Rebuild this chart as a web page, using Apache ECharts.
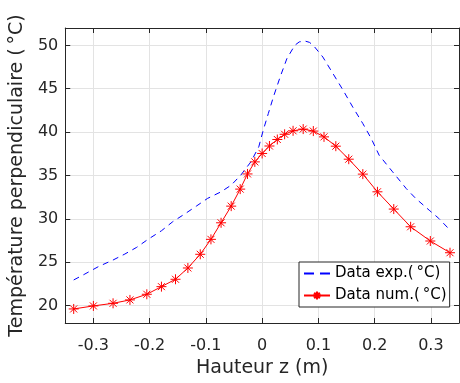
<!DOCTYPE html>
<html>
<head>
<meta charset="utf-8">
<script src="https://cdn.jsdelivr.net/npm/echarts@6/dist/echarts.min.js"></script>
<style>
  html, body { margin: 0; padding: 0; background: #fff; }
  #chart { width: 460px; height: 383px; }
</style>
</head>
<body>
<div id="chart"></div>
<script>
var expX = [-0.335, -0.315, -0.291, -0.274, -0.265, -0.244, -0.223, -0.203, -0.179, -0.159,
            -0.138, -0.117, -0.097, -0.073, -0.055, -0.038, -0.020, -0.006, 0.002, 0.011,
            0.020, 0.032, 0.044, 0.058, 0.066, 0.076, 0.084, 0.091, 0.108, 0.126,
            0.144, 0.161, 0.179, 0.194, 0.208, 0.232, 0.256, 0.273, 0.297, 0.314, 0.334];
var expY = [22.96, 23.65, 24.5, 25.0, 25.26, 25.95, 26.72, 27.64, 28.63, 29.67,
            30.55, 31.47, 32.36, 33.12, 33.89, 35.04, 36.57, 38.3, 40.22, 42.14,
            44.05, 46.35, 48.47, 50.0, 50.4, 50.5, 50.35, 50.0, 48.65, 46.74,
            44.82, 42.9, 40.99, 39.26, 37.34, 35.42, 33.51, 32.36, 31.0, 30.06, 28.71];

var numX = [-0.335, -0.300, -0.265, -0.235, -0.205, -0.179, -0.154, -0.132, -0.110, -0.091,
            -0.073, -0.055, -0.039, -0.026, -0.013, 0.000, 0.013, 0.027, 0.040, 0.055,
            0.073, 0.091, 0.110, 0.131, 0.154, 0.179, 0.205, 0.234, 0.264, 0.299, 0.334];
var numY = [19.62, 19.97, 20.27, 20.66, 21.31, 22.19, 23.04, 24.34, 25.92, 27.64,
            29.55, 31.47, 33.43, 35.18, 36.57, 37.54, 38.4, 39.15, 39.75, 40.15,
            40.35, 40.12, 39.45, 38.38, 36.88, 35.16, 33.12, 31.13, 29.09, 27.45, 26.1];

var xTicks = [-0.3, -0.2, -0.1, 0, 0.1, 0.2, 0.3];
var yTicks = [20, 25, 30, 35, 40, 45, 50];

var nomExp = 'Data exp.(\u2009°C)';
var nomNum = 'Data num.(\u2009°C)';

var font = '"DejaVu Sans", "Liberation Sans", Arial, sans-serif';
var ink = '#262626';
var star = 'path://M0,-10L0,10M-10,0L10,0M-7,-7L7,7M-7,7L7,-7';

function pairs(xs, ys) {
    var out = [];
    for (var i = 0; i < xs.length; i++) out.push([xs[i], ys[i]]);
    return out;
}

function frameAxis(pos, isX, show) {
    return {
        type: 'value',
        position: pos,
        min: isX ? -0.35 : 18,
        max: isX ? 0.35 : 52,
        axisLine: { show: true, onZero: false, lineStyle: { color: ink, width: 1 } },
        axisTick: { show: true, inside: true, length: 5, customValues: isX ? xTicks : yTicks,
                    lineStyle: { color: ink } },
        axisLabel: { show: show, customValues: isX ? xTicks : yTicks, color: ink,
                     fontFamily: font, fontSize: 16, margin: isX ? 15 : 7,
                     formatter: function (v) { return String(Math.round(v * 10) / 10); } },
        splitLine: { show: show, lineStyle: { color: '#e3e3e3', width: 1 } }
    };
}

var chart = echarts.init(document.getElementById('chart'), null, { renderer: 'canvas' });

var xBottom = frameAxis('bottom', true, true);
xBottom.name = 'Hauteur z (m)';
xBottom.nameLocation = 'middle';
xBottom.nameGap = 30;
xBottom.nameTextStyle = { color: ink, fontFamily: font, fontSize: 19 };

var yLeft = frameAxis('left', false, true);
yLeft.name = 'Température perpendiculaire (\u2009°C)';
yLeft.nameLocation = 'middle';
yLeft.nameGap = 32;
yLeft.nameTextStyle = { color: ink, fontFamily: font, fontSize: 19 };

chart.setOption({
    animation: false,
    backgroundColor: '#fff',
    grid: { left: 64, right: 1, top: 28, bottom: 60, containLabel: false },
    xAxis: [xBottom, frameAxis('top', true, false)],
    yAxis: [yLeft, frameAxis('right', false, false)],
    legend: {
        orient: 'vertical',
        left: 299,
        top: 262,
        padding: [4, 3, 4, 4],
        itemGap: 7,
        itemWidth: 26,
        itemHeight: 10,
        backgroundColor: '#fff',
        borderColor: ink,
        borderWidth: 1,
        borderRadius: 0,
        textStyle: { color: '#000', fontFamily: font, fontSize: 15 },
        data: [
            { name: nomExp, itemStyle: { opacity: 0 }, lineStyle: { type: [10, 6] } },
            { name: nomNum }
        ]
    },
    series: [
        {
            name: nomExp,
            type: 'line',
            data: pairs(expX, expY),
            showSymbol: false,
            symbol: 'none',
            lineStyle: { color: '#0000ff', width: 1, type: [6, 5] },
            itemStyle: { color: '#0000ff' },
            z: 3
        },
        {
            name: nomNum,
            type: 'line',
            data: pairs(numX, numY),
            symbol: star,
            symbolSize: 10,
            lineStyle: { color: '#ff0000', width: 1 },
            itemStyle: { color: '#ff0000', borderColor: '#ff0000', borderWidth: 1 },
            z: 4
        }
    ]
});
</script>
</body>
</html>
